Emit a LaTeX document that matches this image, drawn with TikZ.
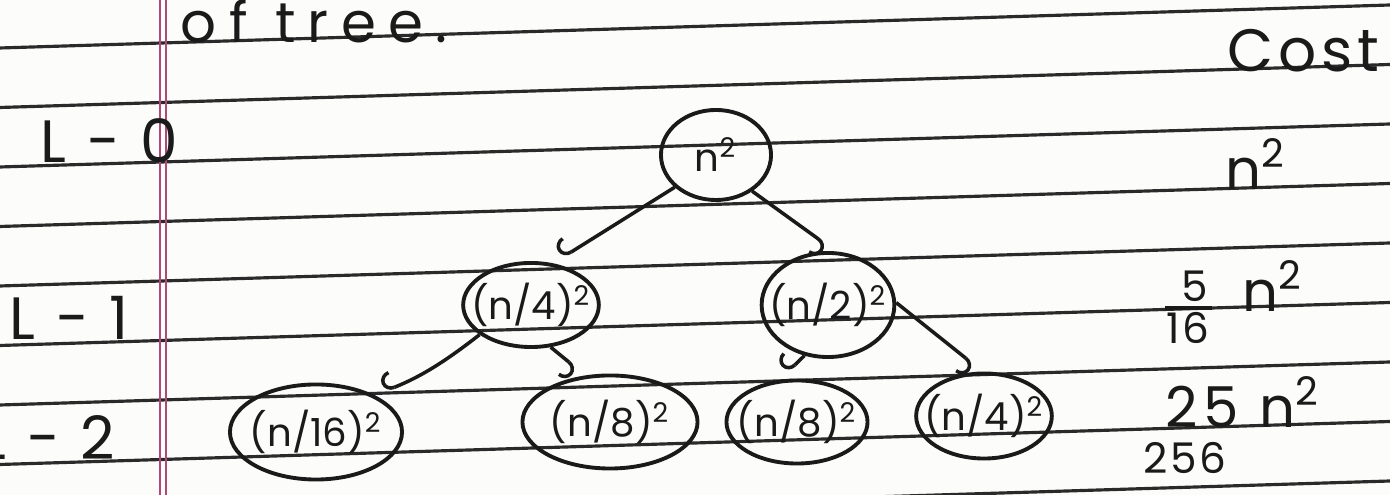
\documentclass[tikz,border=0pt]{standalone}
\usepackage{fontspec}
\setmainfont{Poppins}
\usetikzlibrary{shapes.geometric,arrows.meta}
\definecolor{ink}{HTML}{1A1A1A}
\definecolor{ruleink}{HTML}{2A2A2A}
\definecolor{marginred}{HTML}{B04878}
\definecolor{paper}{HTML}{FCFCFA}
\newcommand\mysq{\textsuperscript{2}}
\begin{document}
\begin{tikzpicture}[x=0.01cm,y=-0.01cm,
  bub/.style={draw=ink,ellipse,line width=1.1pt,inner xsep=-0.12cm,inner ysep=0pt,text=ink,
    font=\fontsize{11}{13}\selectfont},
  edge/.style={draw=ink,line width=1pt,shorten >=3pt,
    -{Hooks[right,length=3pt,width=10pt]}},
  lbl/.style={text=ink,inner sep=0pt},
  big/.style={lbl,font=\fontsize{17}{20}\selectfont\addfontfeature{LetterSpace=8}},
  mid/.style={lbl,font=\fontsize{16}{19}\selectfont\addfontfeature{LetterSpace=10}},
  small/.style={lbl,font=\fontsize{12}{14}\selectfont\addfontfeature{LetterSpace=6}}]
\useasboundingbox (0,0) rectangle (1390,495);
\fill[paper] (0,0) rectangle (1390,495);
\begin{scope}
  \clip (0,0) rectangle (1390,495);
  \foreach \k in {0,...,8}
    \draw[ruleink,line width=0.9pt] (0,{48+59.5*\k}) -- (1390,{48+59.5*\k-43});
  \draw[marginred,line width=0.6pt] (160,0) -- (160,495) (166,0) -- (166,495);
  % texts
  \node[lbl,anchor=base west,font=\fontsize{16}{19}\selectfont\addfontfeature{LetterSpace=22}] (title) at (180,43) {of tree.};
  \node[big,anchor=base west] (cost) at (1227,72) {Cost};
  \node[big,anchor=base west] (l0) at (40,163) {L - 0};
  \node[big,anchor=base west] (l1) at (9,340) {L - 1};
  \node[big,anchor=base east] (l2) at (116,460) {L - 2};
  % tree nodes
  \node[bub,minimum width=1.10cm,minimum height=0.90cm] (root) at (716,155) {n\mysq};
  \node[bub,minimum width=1.07cm,minimum height=0.84cm] (a) at (531,305) {(n/4)\mysq};
  \node[bub,minimum width=1.28cm,minimum height=1.04cm] (b) at (828,305) {(n/2)\mysq};
  \node[bub,minimum width=1.72cm,minimum height=0.95cm] (c) at (316,432) {(n/16)\mysq};
  \node[bub,minimum width=1.75cm,minimum height=0.93cm] (d) at (610,422) {(n/8)\mysq};
  \node[bub,minimum width=1.41cm,minimum height=0.83cm] (e) at (797,422) {(n/8)\mysq};
  \node[bub,minimum width=1.28cm,minimum height=0.85cm] (f) at (984,416) {(n/4)\mysq};
  % edges
  \draw[edge] (root.218) -- (a.62);
  \draw[edge] (root.315) -- (b.82);
  \draw[edge] (a.210) to[bend left=8] (c.32);
  \draw[edge] (a.295) -- (d.118);
  \draw[edge] (b.245) -- (e.112);
  \draw[edge] (b.2) -- (f.92);
  % cost column
  \node[mid,anchor=base west] (c0) at (1225,190) {n\mysq};
  \node[small,anchor=base] (c1num) at (1195,302) {5};
  \node[small,anchor=base] (c1den) at (1188,344) {16};
  \coordinate (barL) at (1165,308);
  \coordinate (barR) at (1212,308);
  \draw[ink,line width=1pt] (barL) -- (barR);
  \node[mid,anchor=base west] (c1) at (1242,312) {n\mysq};
  \node[mid,anchor=base west] (c2) at (1165,428) {25 n\mysq};
  \node[small,anchor=base west] (c2den) at (1143,474) {256};
\end{scope}
\end{tikzpicture}
\end{document}
